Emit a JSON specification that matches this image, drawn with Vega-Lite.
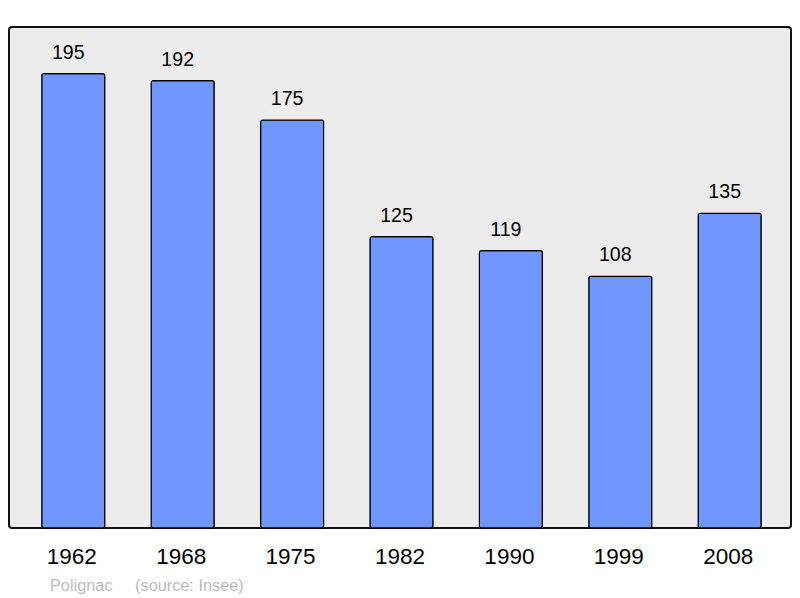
{
  "$schema": "https://vega.github.io/schema/vega-lite/v6.json",
  "width": 782,
  "height": 501,
  "autosize": "none",
  "padding": {"left": 9, "top": 27, "right": 9, "bottom": 70},
  "background": "white",
  "config": {
    "view": {"fill": "#ececec", "stroke": "#111111", "strokeWidth": 2, "cornerRadius": 3},
    "font": "Liberation Sans"
  },
  "title": {
    "text": "Polignac\u00a0\u00a0\u00a0\u00a0 (source: Insee)",
    "orient": "bottom",
    "anchor": "start",
    "dx": 41,
    "offset": 10,
    "fontSize": 16.3,
    "fontWeight": "normal",
    "color": "#bcbcbc",
    "font": "Liberation Sans"
  },
  "data": {
    "values": [
      {"year": "1962", "pop": 195},
      {"year": "1968", "pop": 192},
      {"year": "1975", "pop": 175},
      {"year": "1982", "pop": 125},
      {"year": "1990", "pop": 119},
      {"year": "1999", "pop": 108},
      {"year": "2008", "pop": 135}
    ]
  },
  "encoding": {
    "x": {
      "field": "year",
      "type": "nominal",
      "sort": null,
      "scale": {"paddingInner": 0.424, "paddingOuter": 0.286, "align": 0.524},
      "axis": {
        "title": null,
        "labelAngle": 0,
        "ticks": false,
        "domain": false,
        "labelPadding": 17,
        "labelOffset": -1.5,
        "labelFontSize": 22.5,
        "labelColor": "#000000",
        "labelFont": "Liberation Sans"
      }
    },
    "y": {
      "field": "pop",
      "type": "quantitative",
      "scale": {"domain": [0, 215], "nice": false},
      "axis": null
    }
  },
  "layer": [
    {
      "mark": {"type": "bar", "fill": "#7097ff", "stroke": "#000000", "strokeWidth": 1.2, "cornerRadius": 2}
    },
    {
      "mark": {"type": "text", "baseline": "alphabetic", "dy": -15, "dx": -5, "fontSize": 19.6, "color": "#000000", "font": "Liberation Sans"},
      "encoding": {"text": {"field": "pop", "type": "quantitative"}}
    }
  ]
}
